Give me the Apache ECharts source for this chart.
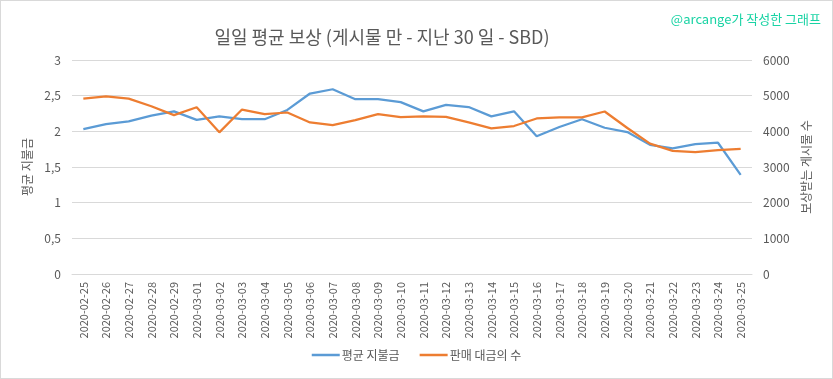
<!DOCTYPE html>
<html><head><meta charset="utf-8">
<script src="https://cdn.jsdelivr.net/npm/echarts@6/dist/echarts.min.js"></script>
<style>
html,body{margin:0;padding:0;background:#fff;}
#c{width:831px;height:377px;border:1px solid #d9d9d9;}
</style></head>
<body><div id="c"></div>
<script>
const categories = ['2020-02-25','2020-02-26','2020-02-27','2020-02-28','2020-02-29','2020-03-01','2020-03-02','2020-03-03','2020-03-04','2020-03-05','2020-03-06','2020-03-07','2020-03-08','2020-03-09','2020-03-10','2020-03-11','2020-03-12','2020-03-13','2020-03-14','2020-03-15','2020-03-16','2020-03-17','2020-03-18','2020-03-19','2020-03-20','2020-03-21','2020-03-22','2020-03-23','2020-03-24','2020-03-25'];
const avgPayout = [2.03,2.10,2.14,2.22,2.28,2.16,2.21,2.17,2.17,2.30,2.53,2.59,2.45,2.45,2.41,2.28,2.37,2.34,2.21,2.28,1.93,2.06,2.17,2.05,1.99,1.81,1.76,1.82,1.84,1.39];
const rewardedPosts = [4917,4981,4917,4704,4454,4676,3972,4611,4481,4528,4250,4176,4315,4481,4398,4417,4407,4250,4083,4148,4361,4389,4389,4556,4093,3657,3454,3417,3472,3509];
const seriesNames = ['평균 지불금','판매 대금의 수'];
const titleText = '일일 평균 보상 (게시물 만 - 지난 30 일 - SBD)';
const watermark = '@arcange가 작성한 그래프';
const leftAxisName = '평균 지불금';
const rightAxisName = '보상받는 게시물 수';

const font = '"Noto Sans CJK KR", "Noto Sans", sans-serif';
const txt = '#595959';
const grid = '#d9d9d9';
const chart = echarts.init(document.getElementById('c'));
chart.setOption({
  animation:false,
  textStyle:{fontFamily:font},
  title:[
    {text:titleText,left:376,top:22,textAlign:'center',textStyle:{fontSize:18,fontWeight:'normal',color:txt,fontFamily:font}},
    {text:watermark,right:6,top:7,textStyle:{fontSize:13,fontWeight:'normal',color:'#19d3a4',fontFamily:font}}
  ],
  legend:{
    bottom:12,left:'center',icon:'rect',itemWidth:28,itemHeight:2.5,itemGap:20,
    textStyle:{color:txt,fontSize:12,fontFamily:font,padding:[0,0,0,-3]},
    data:seriesNames
  },
  grid:{left:71,right:80,top:59,bottom:104,containLabel:false},
  xAxis:{
    type:'category',data:categories,boundaryGap:true,
    axisLine:{show:true,lineStyle:{color:grid}},
    axisTick:{show:false},
    axisLabel:{rotate:90,color:txt,fontSize:11,margin:8,interval:0,fontFamily:font}
  },
  yAxis:[
    {type:'value',min:0,max:3,interval:0.5,
     name:leftAxisName,nameLocation:'middle',nameGap:34,nameRotate:90,
     nameTextStyle:{color:txt,fontSize:12,fontFamily:font},
     axisLine:{show:false},axisTick:{show:false},
     splitLine:{lineStyle:{color:grid}},
     axisLabel:{color:txt,fontSize:12,margin:11,formatter:v=>String(v).replace('.',',')}},
    {type:'value',min:0,max:6000,interval:1000,position:'right',
     name:rightAxisName,nameLocation:'middle',nameGap:29,nameRotate:90,
     nameTextStyle:{color:txt,fontSize:12,fontFamily:font},
     axisLine:{show:false},axisTick:{show:false},
     splitLine:{show:false},
     axisLabel:{color:txt,fontSize:12,margin:11,formatter:v=>String(v)}}
  ],
  series:[
    {name:seriesNames[0],type:'line',yAxisIndex:0,data:avgPayout,symbol:'none',
     lineStyle:{color:'#5b9bd5',width:2.25},itemStyle:{color:'#5b9bd5'}},
    {name:seriesNames[1],type:'line',yAxisIndex:1,data:rewardedPosts,symbol:'none',
     lineStyle:{color:'#ed7d31',width:2.25},itemStyle:{color:'#ed7d31'}}
  ]
});
</script></body></html>
